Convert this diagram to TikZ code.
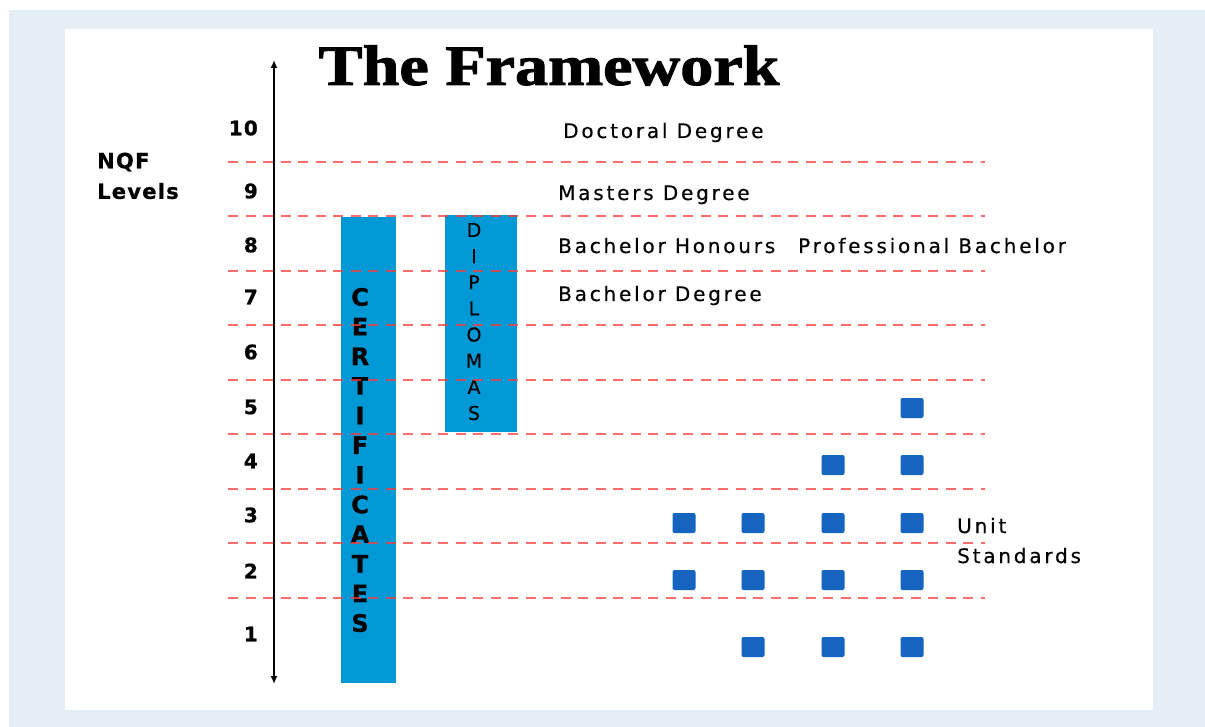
\documentclass[tikz,border=0pt]{standalone}
\usepackage{fontspec}
\usepackage{graphicx}
\setmainfont{DejaVu Sans}
\newfontfamily\lblfont[LetterSpace=14,FakeBold=0.4]{DejaVu Sans}
\newfontfamily\lvlfont[LetterSpace=6,BoldFeatures={FakeBold=0.8}]{DejaVu Sans}
\newfontfamily\certfont[BoldFeatures={FakeBold=0.6}]{DejaVu Sans}
\newfontfamily\titlefont[BoldFeatures={FakeBold=1.6}]{Liberation Serif}
\usetikzlibrary{arrows.meta}
\definecolor{outerbg}{HTML}{E6EEF5}
\definecolor{barblue}{HTML}{0099D5}
\definecolor{sqblue}{HTML}{1565C0}
\definecolor{dashred}{HTML}{FF3B3B}
\begin{document}
\begin{tikzpicture}[x=1pt,y=-1pt,
  lvl/.style={font=\lvlfont\fontsize{20}{20}\selectfont\bfseries, anchor=east, inner sep=0},
  axislabel/.style={font=\lvlfont\fontsize{21}{21}\selectfont\bfseries, anchor=west, inner sep=0},
  qual/.style={font=\lblfont\fontsize{20}{20}\selectfont, anchor=base west, inner sep=0},
  levelline/.style={draw=dashred, draw opacity=0.75, line width=2pt, dash pattern=on 10pt off 7.5pt},
  bar/.style={fill=barblue, draw=none, inner sep=0},
  unitsq/.style={fill=sqblue, minimum width=23pt, minimum height=20pt, inner sep=0, rounded corners=2pt},
  certl/.style={font=\certfont\fontsize{24}{24}\selectfont\bfseries, inner sep=0},
  dipl/.style={font=\lblfont\fontsize{19}{19}\selectfont, inner sep=0}]

\useasboundingbox (0,0) rectangle (1205,727);
\fill[white] (0,0) rectangle (1205,727);
\fill[outerbg] (9,10) rectangle (1205,727);
\fill[white] (65,29) rectangle (1153,710);

% title
\node[font=\titlefont\fontsize{57}{57}\selectfont\bfseries, anchor=base, inner sep=0] (title) at (549,85) {\scalebox{1.16}[1]{The Framework}};

% bars
\node[bar, minimum width=55pt, minimum height=466pt] (cert) at (368.5,450) {};
\node[bar, minimum width=72pt, minimum height=217pt] (dipbar) at (481,323.5) {};

\foreach \l [count=\i from 0] in {C,E,R,T,I,F,I,C,A,T,E,S}
  \node[certl] (c\i) at (360,{297+29.64*\i}) {\l};
\foreach \l [count=\i from 0] in {D,I,P,L,O,M,A,S}
  \node[dipl] (d\i) at (474,{230+26.14*\i}) {\l};

% dashed level separators
\foreach \y in {162,216.5,271,325.5,380,434,489,543,597.5}
  \draw[levelline] (228,\y) -- (985,\y);

% axis
\coordinate (axtop) at (274,60);
\coordinate (axbot) at (274,684);
\draw[{Latex[length=8pt,width=7pt]}-{Latex[length=8pt,width=7pt]}, line width=2.2pt] (axbot) -- (axtop);

% level numbers
\foreach \n/\y in {10/128,9/191,8/245,7/297,6/352,5/407,4/461,3/515,2/571,1/634}
  \node[lvl] (l\n) at (258,\y) {\n};

\node[axislabel] (nqf) at (97,162) {NQF};
\node[axislabel] (levels) at (97,191) {Levels};

% qualifications
\node[qual] (doc) at (563,138) {Doctoral Degree};
\node[qual] (mast) at (558,200) {Masters Degree};
\node[qual] (hons) at (558,253) {Bachelor Honours};
\node[qual] (prof) at (798,253) {Professional Bachelor};
\node[qual] (bach) at (558,301) {Bachelor Degree};

% unit standards
\foreach \x/\y [count=\k] in {912/408, 833/465,912/465, 684/523,753/523,833/523,912/523, 684/580,753/580,833/580,912/580, 753/647,833/647,912/647}
  \node[unitsq] (u\k) at (\x,\y) {};

\node[qual] (unit) at (957,533) {Unit};
\node[qual] (stds) at (957,563) {Standards};
\end{tikzpicture}
\end{document}
